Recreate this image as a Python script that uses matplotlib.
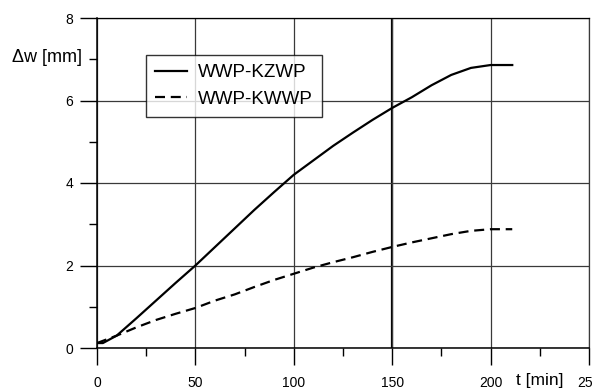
import matplotlib
matplotlib.use('Agg')
import matplotlib.pyplot as plt
from matplotlib.ticker import MultipleLocator

plt.rcParams['font.family'] = ['Liberation Sans', 'DejaVu Sans']

# data
t_kzwp = [0, 3, 10, 20, 30, 40, 50, 60, 70, 80, 90, 100, 110, 120, 130, 140,
          150, 160, 170, 180, 190, 200, 211]
kzwp = [0.12, 0.12, 0.3, 0.72, 1.15, 1.58, 2.0, 2.45, 2.9, 3.35, 3.78, 4.2,
        4.55, 4.9, 5.22, 5.53, 5.82, 6.08, 6.37, 6.62, 6.79, 6.86, 6.86]
t_kwwp = [0, 10, 20, 30, 40, 50, 60, 70, 80, 90, 100, 110, 120, 130, 140,
          150, 160, 170, 180, 190, 200, 211]
kwwp = [0.12, 0.3, 0.5, 0.68, 0.83, 0.97, 1.15, 1.3, 1.48, 1.65, 1.8, 1.95,
        2.08, 2.2, 2.33, 2.45, 2.56, 2.66, 2.76, 2.84, 2.88, 2.88]

x_major = [0, 50, 100, 150, 200, 250]
y_major = [0, 2, 4, 6, 8]

fig = plt.figure(figsize=(5.92, 3.89), dpi=100)
ax = fig.add_axes([97/592, 1 - 348/389, 492/592, 330/389])

ax.plot(t_kzwp, kzwp, color='black', lw=1.6, label='WWP-KZWP')
ax.plot(t_kwwp, kwwp, color='black', lw=1.6, dashes=(4.5, 2.6), label='WWP-KWWP')

ax.set_xlim(0, 250)
ax.set_ylim(0, 8)
ax.set_xticks(x_major)
ax.set_yticks(y_major)
ax.xaxis.set_minor_locator(MultipleLocator(25))
ax.yaxis.set_minor_locator(MultipleLocator(1))
ax.tick_params(which='major', length=12, width=1, direction='out', labelsize=10)
ax.tick_params(which='minor', length=6, width=1, direction='out')
ax.tick_params(axis='x', which='major', pad=8)
ax.tick_params(axis='y', which='major', pad=5)

ax.grid(which='major', color='#3a3a3a', lw=0.9)
ax.axvline(150, color='black', lw=1.6, zorder=1)
for s in ax.spines.values():
    s.set_color('#3a3a3a')
    s.set_linewidth(0.9)
ax.spines['left'].set_color('black')
ax.spines['bottom'].set_color('black')
ax.spines['top'].set_color('black')
ax.spines['left'].set_linewidth(1.1)
ax.spines['bottom'].set_linewidth(1.1)

# axis labels placed at the minor tick positions, as in the original
ax.text(-0.031, 7 / 8 + 0.005, '\u0394w [mm]', transform=ax.transAxes, ha='right',
        va='center', fontsize=13)
ax.text(225, -0.097, 't [min]', transform=ax.get_xaxis_transform(), ha='center',
        va='center', fontsize=12.5)

leg = ax.legend(loc='upper left', bbox_to_anchor=(0.0996, 0.888), fontsize=13.5,
                frameon=True, fancybox=False, handlelength=1.7,
                handletextpad=0.55, labelspacing=0.5, borderpad=0.5,
                borderaxespad=0)
leg.get_frame().set_edgecolor('black')
leg.get_frame().set_linewidth(1.0)

plt.savefig('out.png', dpi=100)
